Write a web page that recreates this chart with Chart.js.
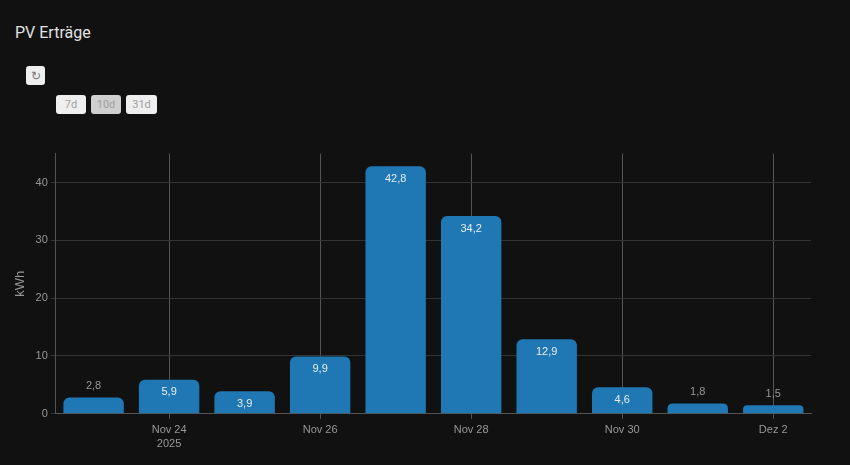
<!DOCTYPE html>
<html>
<head>
<meta charset="utf-8">
<title>PV Erträge</title>
<script src="https://cdn.jsdelivr.net/npm/chart.js"></script>
<style>
  html, body { margin: 0; padding: 0; background: #111111; overflow: hidden; }
  body { width: 850px; height: 465px; position: relative; font-family: Roboto, sans-serif; }
  h1 { position: absolute; left: 15px; top: 23px; margin: 0; font-size: 16px; line-height: 19px; font-weight: 400; color: #e1e1e1; }
  button { position: absolute; padding: 0; border: 0; font-family: Roboto, sans-serif; font-size: 11px; color: #a0a0a0; background: #efefef; border-radius: 3px; height: 19px; }
  button.active { background: #cfcfcf; }
  #reload { left: 26px; top: 66px; width: 19px; color: #777; font-size: 12px; }
  canvas { position: absolute; left: 0; top: 0; }
</style>
</head>
<body>
<h1>PV Erträge</h1>
<button id="reload">↻</button>
<button style="left:56px;top:95px;width:30px">7d</button>
<button class="active" style="left:91px;top:95px;width:30px">10d</button>
<button style="left:126px;top:95px;width:31px">31d</button>
<canvas id="chart" width="850" height="465"></canvas>
<script>
const categories = ['Nov 23', ['Nov 24', '2025'], 'Nov 25', 'Nov 26', 'Nov 27', 'Nov 28', 'Nov 29', 'Nov 30', 'Dez 1', 'Dez 2'];
const yields = [2.8, 5.9, 3.9, 9.9, 42.8, 34.2, 12.9, 4.6, 1.8, 1.5];
const yTicks = [0, 10, 20, 30, 40];

// Werte innen in den Balken, wenn sie passen, sonst darueber
const valueLabels = {
  id: 'valueLabels',
  afterDatasetsDraw(chart) {
    const ctx = chart.ctx;
    const bars = chart.getDatasetMeta(0).data;
    ctx.save();
    ctx.font = '11px "Liberation Sans", Arial, sans-serif';
    ctx.textAlign = 'center';
    ctx.textBaseline = 'middle';
    bars.forEach((bar, i) => {
      const inside = yields[i] >= 3;
      ctx.fillStyle = inside ? '#e8eef4' : '#979797';
      ctx.fillText(yields[i].toFixed(1).replace('.', ','), bar.x, inside ? bar.y + 12.5 : bar.y - 11.5);
    });
    ctx.restore();
  }
};

new Chart(document.getElementById('chart'), {
  type: 'bar',
  data: {
    labels: categories,
    datasets: [{
      data: yields,
      backgroundColor: '#1f77b4',
      borderWidth: 0,
      borderRadius: 6,
      barPercentage: 0.8,
      categoryPercentage: 1
    }]
  },
  options: {
    responsive: false,
    animation: false,
    layout: { padding: { left: 9, top: 153.6, right: 39, bottom: 9.6 } },
    plugins: { legend: { display: false }, tooltip: { enabled: false } },
    scales: {
      x: {
        border: { color: '#555555' },
        grid: { offset: false, color: '#555555', tickLength: 5 },
        ticks: {
          color: '#979797',
          padding: 4,
          font: { family: '"Liberation Sans", Arial, sans-serif', size: 11, lineHeight: 1.3 },
          maxRotation: 0,
          autoSkip: false,
          callback(value, index) { return index % 2 === 1 ? categories[index] : null; }
        }
      },
      y: {
        min: 0,
        max: 45,
        border: { color: '#555555' },
        grid: { color: '#333333', tickLength: 5 },
        afterBuildTicks(axis) { axis.ticks = yTicks.map(value => ({ value })); },
        ticks: {
          color: '#979797',
          font: { family: '"Liberation Sans", Arial, sans-serif', size: 11 }
        },
        title: {
          display: true,
          text: 'kWh',
          color: '#979797',
          font: { family: '"Liberation Sans", Arial, sans-serif', size: 13 }
        }
      }
    }
  },
  plugins: [valueLabels]
});
</script>
</body>
</html>
